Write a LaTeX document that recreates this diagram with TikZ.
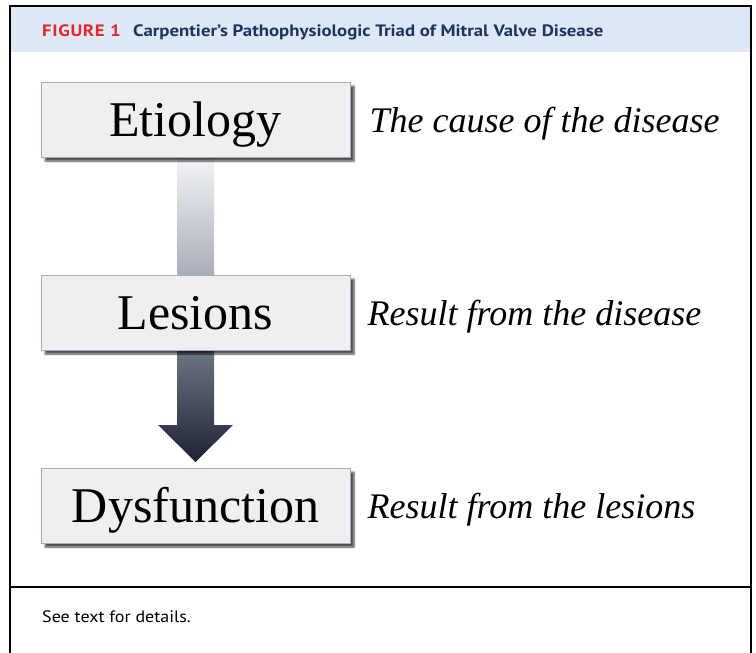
\documentclass[tikz,border=0pt]{standalone}
\usepackage{fontspec}
\setmainfont{Liberation Serif}
\newfontfamily\jaccsans{PT Sans}
\usetikzlibrary{shadows.blur,positioning}

\definecolor{capblue}{HTML}{DEE9F5}
\definecolor{figred}{HTML}{E3262D}
\definecolor{titlenavy}{HTML}{1B3561}
\definecolor{boxfill}{HTML}{EFEFEF}
\definecolor{boxedge}{HTML}{A4ACBE}
\definecolor{barlight}{HTML}{F3F4F6}
\definecolor{bardark}{HTML}{A8AEB9}
\definecolor{arrowtop}{HTML}{6E7683}
\definecolor{arrowbot}{HTML}{1C2235}

\begin{document}
\begin{tikzpicture}[x=1pt,y=1pt,
    stage/.style={draw=boxedge,line width=0.9pt,fill=boxfill,
      minimum width=309pt,minimum height=75pt,inner sep=0pt,
      text height=33pt,text depth=0pt,
      font=\fontsize{50}{50}\selectfont,
      blur shadow={shadow xshift=4pt,shadow yshift=-4pt,
        shadow opacity=70,shadow blur steps=6}},
    note/.style={anchor=base west,inner sep=0pt,
      font=\fontsize{36}{36}\selectfont\itshape},
    headtext/.style={anchor=base west,inner sep=0pt,
      font=\jaccsans\bfseries\fontsize{16.5}{16.5}\selectfont\addfontfeature{FakeStretch=1.14}}]
  \useasboundingbox (0,0) rectangle (756,-653);

  % frame and caption band
  \fill[capblue] (10,-6) rectangle (751,-52);
  \draw[line width=1.6pt] (10,-653) -- (10,-6) -- (751,-6) -- (751,-653);
  \draw[line width=1.6pt] (10,-587) -- (751,-587);
  \node[headtext,text=figred] (figno) at (42,-36)
    {\addfontfeature{LetterSpace=4}FIGURE 1};
  \node[headtext,text=titlenavy] (title) at (133,-36)
    {Carpentier’s Pathophysiologic Triad of Mitral Valve Disease};

  % the triad
  \coordinate (etiopos) at (195.5,-119.5);
  \coordinate (lespos) at (195.5,-312.5);
  \coordinate (dyspos) at (195.5,-505.5);
  \coordinate (tip) at (195.5,-462);

  \shade[top color=barlight,bottom color=bardark]
    ([xshift=-18.5pt]etiopos |- 0,-157) rectangle ([xshift=18.5pt]lespos |- 0,-275);
  \shade[top color=arrowtop,bottom color=arrowbot]
    ([xshift=-18.5pt]lespos |- 0,-350) -- ++(0,-75) -- ++(-19,0) -- (tip)
      -- ++(37.5,37) -- ++(-19,0) -- ++(0,75) -- cycle;

  \node[stage] (etio) at (etiopos) {Etiology};
  \node[stage] (les) at (lespos) {Lesions};
  \node[stage] (dys) at (dyspos) {Dysfunction};

  \node[note] (cause) at ([xshift=19pt,yshift=-13pt]etio.east) {The cause of the disease};
  \node[note] (fromdis) at ([xshift=17pt,yshift=-13pt]les.east) {Result from the disease};
  \node[note] (fromles) at ([xshift=17pt,yshift=-13pt]dys.east) {Result from the lesions};

  \node[anchor=base west,inner sep=0pt,
    font=\jaccsans\fontsize{16.5}{16.5}\selectfont\addfontfeature{FakeStretch=1.09}]
    (seetext) at (42,-622) {See text for details.};
\end{tikzpicture}
\end{document}
